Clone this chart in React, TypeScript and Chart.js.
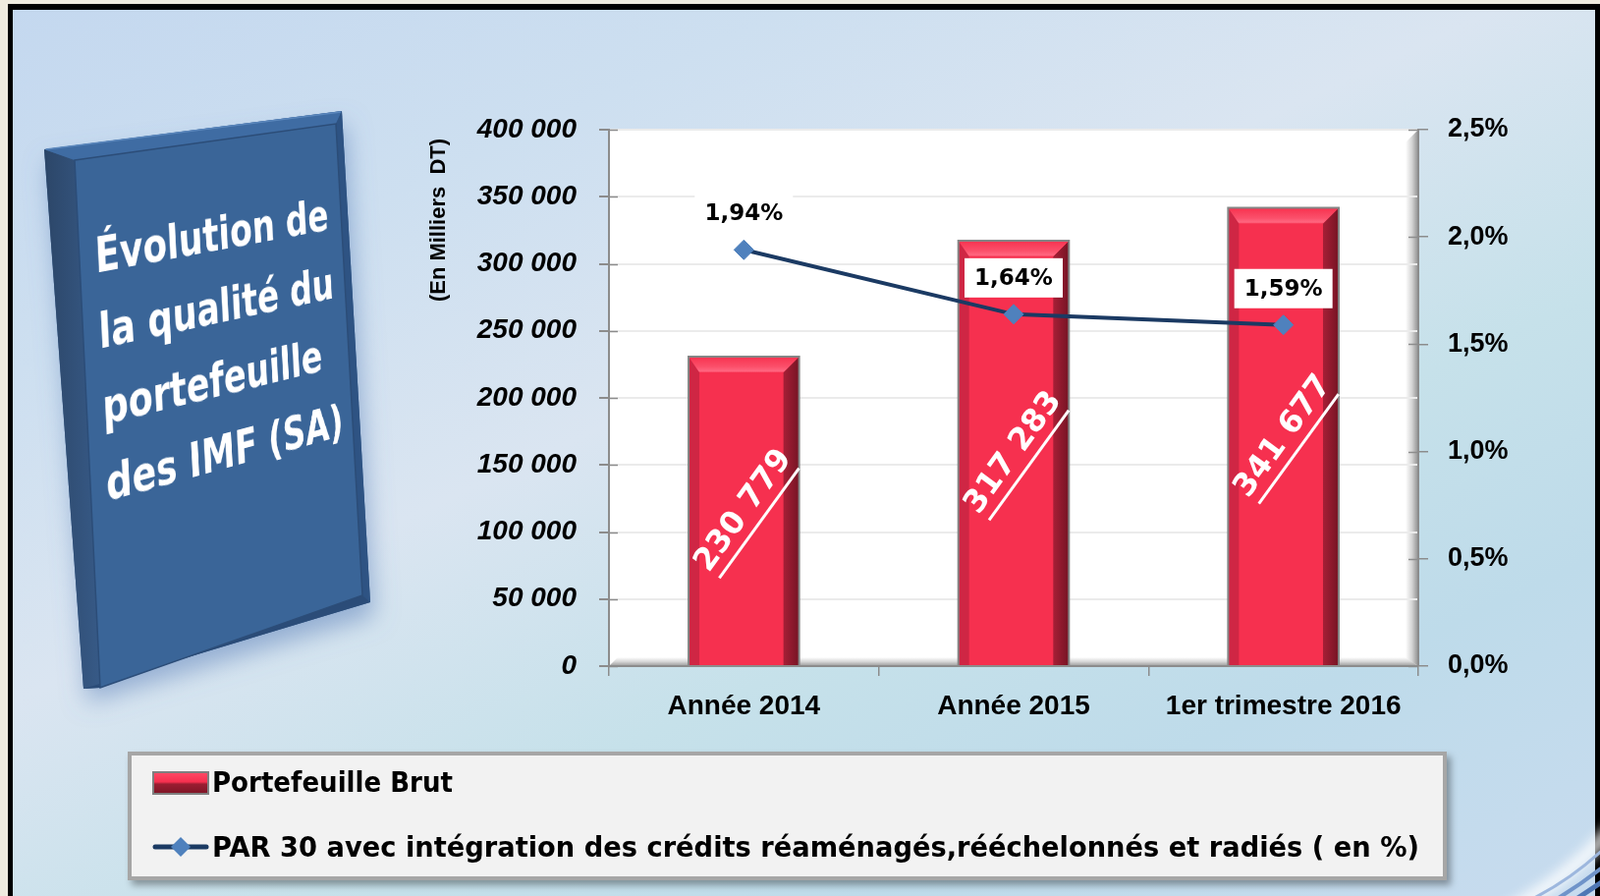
import React, { useEffect, useRef } from 'react';
import { Chart, registerables } from 'chart.js';

Chart.register(...registerables);

// ---------- data ----------
const categories = ['Année 2014', 'Année 2015', '1er trimestre 2016'];
const portefeuilleBrut = [230779, 317283, 341677];
const par30 = [1.94, 1.64, 1.59];
const leftAxisMax = 400000;
const leftAxisStep = 50000;
const rightAxisMax = 2.5;
const rightAxisStep = 0.5;
const titleLines = ['Évolution de', 'la qualité du', 'portefeuille', 'des IMF (SA)'];
const legendLabels = [
  'Portefeuille Brut',
  'PAR 30 avec intégration des crédits réaménagés,rééchelonnés et radiés ( en %)',
];
const yAxisTitle = '(En Milliers  DT)';

// ---------- helpers ----------
const W = 1629;
const H = 912;
const fmtThousands = (v: number) => String(Math.round(v)).replace(/\B(?=(\d{3})+(?!\d))/g, ' ');
const fmtPct = (v: number, d: number) => v.toFixed(d).replace('.', ',') + '%';

function quadMatrix(w: number, h: number, q: number[][]): string {
  const [[x0, y0], [x1, y1], [x2, y2], [x3, y3]] = q;
  const dx1 = x1 - x2, dx2 = x3 - x2, dx3 = x0 - x1 + x2 - x3;
  const dy1 = y1 - y2, dy2 = y3 - y2, dy3 = y0 - y1 + y2 - y3;
  const det = dx1 * dy2 - dx2 * dy1;
  let g = (dx3 * dy2 - dx2 * dy3) / det;
  let hh = (dx1 * dy3 - dx3 * dy1) / det;
  let a = x1 - x0 + g * x1;
  let b = x3 - x0 + hh * x3;
  const c = x0;
  let d = y1 - y0 + g * y1;
  let e = y3 - y0 + hh * y3;
  const f = y0;
  a /= w; d /= w; g /= w;
  b /= h; e /= h; hh /= h;
  return `matrix3d(${a},${d},0,${g},${b},${e},0,${hh},0,0,1,0,${c},${f},0,1)`;
}

const FACE = [[76, 163], [342, 126], [369, 606], [102, 700]];
const FACE_W = 410;
const FACE_H = 550;

const decoPlugin = {
  id: 'deco',
  beforeDraw(chart: any) {
    const { ctx, chartArea: a } = chart;
    ctx.save();
    ctx.fillStyle = '#ffffff';
    ctx.fillRect(a.left, a.top, a.right - a.left, a.bottom - a.top);
    const bw = 13;
    let g = ctx.createLinearGradient(a.right - bw, 0, a.right, 0);
    g.addColorStop(0, 'rgba(255,255,255,1)');
    g.addColorStop(0.5, '#d4d4d4');
    g.addColorStop(1, '#8f8f8f');
    ctx.fillStyle = g;
    ctx.beginPath();
    ctx.moveTo(a.right - bw, a.top + bw);
    ctx.lineTo(a.right, a.top);
    ctx.lineTo(a.right, a.bottom);
    ctx.lineTo(a.right - bw, a.bottom - 8);
    ctx.closePath();
    ctx.fill();
    const bh = 9;
    g = ctx.createLinearGradient(0, a.bottom - bh, 0, a.bottom);
    g.addColorStop(0, 'rgba(255,255,255,1)');
    g.addColorStop(0.5, '#d6d6d6');
    g.addColorStop(1, '#9a9a9a');
    ctx.fillStyle = g;
    ctx.beginPath();
    ctx.moveTo(a.left + bh, a.bottom - bh);
    ctx.lineTo(a.right - bw, a.bottom - bh);
    ctx.lineTo(a.right, a.bottom);
    ctx.lineTo(a.left, a.bottom);
    ctx.closePath();
    ctx.fill();
    ctx.restore();
  },
  beforeDatasetsDraw(chart: any) {
    const { ctx, chartArea: a, scales } = chart;
    ctx.save();
    ctx.strokeStyle = '#8c8c8c';
    ctx.lineWidth = 1.5;
    scales.y.ticks.forEach((_t: any, i: number) => {
      const py = Math.round(scales.y.getPixelForTick(i)) + 0.5;
      ctx.beginPath();
      ctx.moveTo(a.left, py);
      ctx.lineTo(a.left + 9, py);
      ctx.stroke();
    });
    scales.y1.ticks.forEach((_t: any, i: number) => {
      const py = Math.round(scales.y1.getPixelForTick(i)) + 0.5;
      ctx.beginPath();
      ctx.moveTo(a.right - 10, py);
      ctx.lineTo(a.right, py);
      ctx.stroke();
    });
    ctx.restore();
  },
  afterDatasetDraw(chart: any, args: any) {
    if (args.index !== 1) return;
    const { ctx } = chart;
    const meta = chart.getDatasetMeta(1);
    meta.data.forEach((bar: any, i: number) => {
      const p = bar.getProps(['x', 'y', 'base', 'width'], true);
      const l = p.x - p.width / 2, r = p.x + p.width / 2, t = p.y, b = p.base;
      const bv = 13;
      ctx.save();
      // left bevel
      ctx.fillStyle = '#cf2644';
      ctx.beginPath();
      ctx.moveTo(l, t); ctx.lineTo(l + bv - 2, t + bv); ctx.lineTo(l + bv - 2, b); ctx.lineTo(l, b);
      ctx.closePath(); ctx.fill();
      // right bevel
      let g = ctx.createLinearGradient(r - bv - 3, 0, r, 0);
      g.addColorStop(0, '#a61f36');
      g.addColorStop(1, '#761424');
      ctx.fillStyle = g;
      ctx.beginPath();
      ctx.moveTo(r, t); ctx.lineTo(r - bv - 3, t + bv + 3); ctx.lineTo(r - bv - 3, b); ctx.lineTo(r, b);
      ctx.closePath(); ctx.fill();
      // top bevel
      g = ctx.createLinearGradient(0, t, 0, t + bv + 4);
      g.addColorStop(0, '#f7324f');
      g.addColorStop(0.6, '#fb4f6a');
      g.addColorStop(0.85, '#ff6680');
      g.addColorStop(1, '#f6304f');
      ctx.fillStyle = g;
      ctx.beginPath();
      ctx.moveTo(l, t); ctx.lineTo(r, t); ctx.lineTo(r - bv - 3, t + bv + 3); ctx.lineTo(l + bv - 2, t + bv + 3);
      ctx.closePath(); ctx.fill();
      // outline
      ctx.strokeStyle = '#858585';
      ctx.lineWidth = 2;
      ctx.beginPath();
      ctx.moveTo(l, b); ctx.lineTo(l, t); ctx.lineTo(r, t); ctx.lineTo(r, b);
      ctx.stroke();
      // value label
      const cy = (t + b) / 2;
      ctx.translate(p.x, cy);
      ctx.rotate((-54 * Math.PI) / 180);
      ctx.fillStyle = '#ffffff';
      ctx.strokeStyle = '#ffffff';
      ctx.font = 'bold 32px "DejaVu Sans"';
      ctx.textAlign = 'center';
      ctx.textBaseline = 'middle';
      ctx.fillText(fmtThousands(portefeuilleBrut[i]), 0, 0);
      ctx.lineWidth = 3;
      ctx.beginPath();
      ctx.moveTo(-70, 20);
      ctx.lineTo(68, 20);
      ctx.stroke();
      ctx.restore();
    });
  },
  afterDraw(chart: any) {
    const { ctx } = chart;
    ctx.save();
    // line labels
    const meta = chart.getDatasetMeta(0);
    meta.data.forEach((pt: any, i: number) => {
      const cx = pt.x, cy = pt.y - 37;
      ctx.fillStyle = '#ffffff';
      ctx.fillRect(cx - 50, cy - 20, 100, 40);
      ctx.fillStyle = '#000000';
      ctx.font = 'bold 23px "DejaVu Sans"';
      ctx.textAlign = 'center';
      ctx.textBaseline = 'middle';
      ctx.fillText(fmtPct(par30[i], 2), cx, cy + 1);
    });
    // y axis title
    ctx.save();
    ctx.translate(447, 224);
    ctx.rotate(-Math.PI / 2);
    ctx.font = 'bold 22px "Liberation Sans"';
    ctx.fillStyle = '#000';
    ctx.textAlign = 'center';
    ctx.textBaseline = 'middle';
    ctx.fillText(yAxisTitle, 0, 0);
    ctx.restore();
    // legend box
    ctx.save();
    ctx.shadowColor = 'rgba(0,0,0,0.35)';
    ctx.shadowBlur = 7;
    ctx.shadowOffsetX = 4;
    ctx.shadowOffsetY = 5;
    ctx.fillStyle = '#f2f2f2';
    ctx.fillRect(130, 765, 1343, 131);
    ctx.restore();
    ctx.strokeStyle = '#a6a6a6';
    ctx.lineWidth = 4;
    ctx.strokeRect(132, 767, 1339, 127);
    // legend icon 1 (bar)
    const ix = 156, iy = 786, iw = 56, ih = 22;
    let g = ctx.createLinearGradient(0, iy, 0, iy + ih);
    g.addColorStop(0, '#ff4a66');
    g.addColorStop(0.45, '#f6304f');
    g.addColorStop(0.55, '#9a1d31');
    g.addColorStop(1, '#7d1526');
    ctx.fillStyle = g;
    ctx.fillRect(ix, iy, iw, ih);
    ctx.strokeStyle = '#7f7f7f';
    ctx.lineWidth = 2;
    ctx.strokeRect(ix, iy, iw, ih);
    // legend icon 2 (line + diamond)
    ctx.strokeStyle = '#1b3a63';
    ctx.lineWidth = 5;
    ctx.lineCap = 'round';
    ctx.beginPath();
    ctx.moveTo(158, 862);
    ctx.lineTo(210, 862);
    ctx.stroke();
    ctx.fillStyle = '#4f81bd';
    ctx.beginPath();
    ctx.moveTo(184 - 10, 862); ctx.lineTo(184, 852); ctx.lineTo(184 + 10, 862); ctx.lineTo(184, 872);
    ctx.closePath(); ctx.fill();
    // legend texts
    const drawFit = (text: string, x: number, y: number, target: number) => {
      ctx.font = 'bold 29px "DejaVu Sans"';
      const w = ctx.measureText(text).width;
      ctx.save();
      ctx.translate(x, y);
      ctx.scale(target / w, 1);
      ctx.fillStyle = '#000';
      ctx.textAlign = 'left';
      ctx.textBaseline = 'middle';
      ctx.fillText(text, 0, 0);
      ctx.restore();
    };
    drawFit(legendLabels[0], 216, 798, 245);
    drawFit(legendLabels[1], 216, 864, 1229);
    ctx.restore();
  },
};

export default function App() {
  const canvasRef = useRef<HTMLCanvasElement | null>(null);

  useEffect(() => {
    document.body.style.margin = '0';
    const canvas = canvasRef.current;
    if (!canvas) return;
    const tickFont = { family: 'Liberation Sans', size: 28, weight: 'bold' as const };
    const chart = new Chart(canvas, {
      type: 'bar',
      data: {
        labels: categories,
        datasets: [
          {
            type: 'line' as const,
            label: legendLabels[1],
            data: par30,
            yAxisID: 'y1',
            order: 0,
            borderColor: '#1b3a63',
            borderWidth: 4,
            pointStyle: 'rectRot',
            pointRadius: 10,
            pointHoverRadius: 10,
            pointBackgroundColor: '#4f81bd',
            pointBorderColor: '#4f81bd',
            pointBorderWidth: 1,
            tension: 0,
            fill: false,
          } as any,
          {
            type: 'bar' as const,
            label: legendLabels[0],
            data: portefeuilleBrut,
            yAxisID: 'y',
            order: 1,
            backgroundColor: '#f6304f',
            barPercentage: 0.41,
            categoryPercentage: 1,
          } as any,
        ],
      },
      options: {
        responsive: false,
        animation: false,
        events: [],
        layout: { padding: { left: 460, right: 85, top: 132, bottom: 174 } },
        plugins: { legend: { display: false }, tooltip: { enabled: false } },
        scales: {
          x: {
            offset: true,
            grid: { display: true, drawOnChartArea: false, drawTicks: true, tickLength: 10, offset: true, tickColor: '#8c8c8c', lineWidth: 1.5 },
            border: { display: true, color: '#8c8c8c', width: 2 },
            ticks: { color: '#000', font: tickFont, padding: 14 },
            afterFit: (s: any) => { s.height = 60; },
          },
          y: {
            position: 'left',
            min: 0,
            max: leftAxisMax,
            ticks: {
              stepSize: leftAxisStep,
              callback: (v: any) => fmtThousands(Number(v)),
              color: '#000',
              font: { ...tickFont, style: 'italic' },
              padding: 23,
            },
            grid: { color: '#ebebeb', lineWidth: 2, tickColor: '#8c8c8c', tickLength: 10, drawTicks: true },
            border: { display: true, color: '#8c8c8c', width: 2 },
            afterFit: (s: any) => { s.width = 160; },
          },
          y1: {
            position: 'right',
            min: 0,
            max: rightAxisMax,
            ticks: {
              stepSize: rightAxisStep,
              callback: (v: any) => fmtPct(Number(v), 1),
              color: '#000',
              font: { ...tickFont, size: 27 },
              padding: 20,
            },
            grid: { drawOnChartArea: false, tickColor: '#8c8c8c', tickLength: 10, drawTicks: true, lineWidth: 1.5 },
            border: { display: true, color: '#8c8c8c', width: 2 },
            afterFit: (s: any) => { s.width = 100; },
          },
        },
      } as any,
      plugins: [decoPlugin],
    });
    return () => chart.destroy();
  }, []);

  return (
    <div style={{ position: 'relative', width: W, height: H, overflow: 'hidden', background: '#efebdf' }}>
      <div
        style={{
          position: 'absolute',
          left: 8,
          top: 4,
          width: W - 8,
          height: H + 20,
          boxSizing: 'border-box',
          borderLeft: '5px solid #000',
          borderTop: '6px solid #000',
          borderRight: '5px solid #000',
          background:
            'linear-gradient(155deg, #c4d8ef 0%, #cddff0 22%, #dae5f1 42%, #c6e1ea 62%, #bedbea 78%, #c8dbef 100%)',
        }}
      />
      <svg width={W} height={H} style={{ position: 'absolute', left: 0, top: 0 }}>
        <defs>
          <filter id="bookShadow" x="-30%" y="-30%" width="160%" height="160%">
            <feGaussianBlur in="SourceAlpha" stdDeviation="12" />
            <feOffset dx="4" dy="14" result="blur" />
            <feFlood floodColor="#5d82ba" floodOpacity="0.55" />
            <feComposite in2="blur" operator="in" />
            <feMerge>
              <feMergeNode />
              <feMergeNode in="SourceGraphic" />
            </feMerge>
          </filter>
          <linearGradient id="sideGrad" x1="0" y1="0" x2="1" y2="0">
            <stop offset="0" stopColor="#2c4668" />
            <stop offset="1" stopColor="#375a87" />
          </linearGradient>
          <filter id="glow" x="-50%" y="-50%" width="200%" height="200%">
            <feGaussianBlur stdDeviation="6" />
          </filter>
        </defs>
        <g filter="url(#bookShadow)">
          <polygon points="45,152 348,113 377,613 85,701" fill="#365d8d" />
        </g>
        <polygon points="45,152 76,163 102,700 85,701" fill="url(#sideGrad)" />
        <polygon points="45,152 348,113 342,126 76,163" fill="#3f6ca3" />
        <polygon points="348,113 377,613 369,606 342,126" fill="#2e5383" />
        <polygon points="102,700 369,606 377,613 85,701" fill="#2b4c78" />
        <polygon points="76,163 342,126 369,606 102,700" fill="#3a6598" stroke="#2c4d78" strokeWidth="1.5" />
        <line x1="47" y1="152" x2="347" y2="114" stroke="#5b87bc" strokeWidth="1.5" />
        <path d="M1530,930 Q1590,900 1640,845" stroke="#ffffff" strokeWidth="14" fill="none" opacity="0.8" filter="url(#glow)" />
        <path d="M1560,915 Q1600,895 1635,862" stroke="#9db7de" strokeWidth="3" fill="none" />
        <path d="M1585,915 Q1610,900 1635,880" stroke="#6f93c9" strokeWidth="4" fill="none" />
        <path d="M1605,915 Q1620,905 1635,895" stroke="#4f77b5" strokeWidth="5" fill="none" />
      </svg>
      <div
        style={{
          position: 'absolute',
          left: 0,
          top: 0,
          width: FACE_W,
          height: FACE_H,
          transformOrigin: '0 0',
          transform: quadMatrix(FACE_W, FACE_H, FACE),
          boxSizing: 'border-box',
          paddingTop: 64,
          paddingLeft: 22,
          color: '#ffffff',
          fontFamily: '"DejaVu Sans", sans-serif',
          fontWeight: 'bold',
          fontSize: 52,
          lineHeight: '80px',
          whiteSpace: 'nowrap',
        }}
      >
        {titleLines.map((t) => (
          <div key={t}>{t}</div>
        ))}
      </div>
      <canvas
        ref={canvasRef}
        width={W}
        height={H}
        style={{ position: 'absolute', left: 0, top: 0, display: 'block' }}
      />
    </div>
  );
}
